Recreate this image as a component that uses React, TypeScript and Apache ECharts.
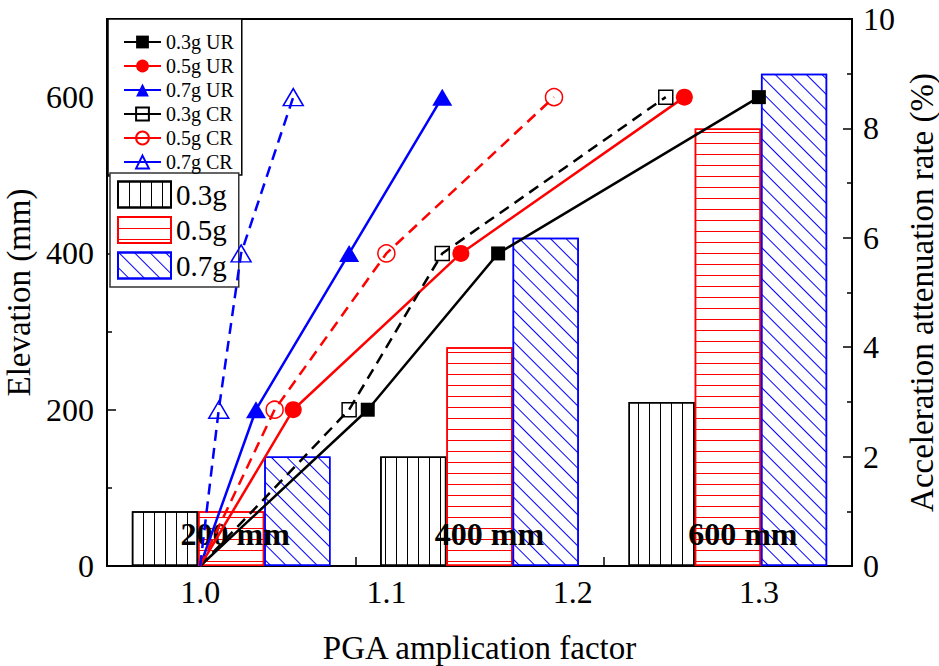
import React, { useEffect, useRef } from 'react';
import * as echarts from 'echarts';

// ---- data ----
const positions = ['200 mm', '400 mm', '600 mm'];
const barNames = ['0.3g', '0.5g', '0.7g'];
const bar03 = [1, 2, 3];
const bar05 = [1, 4, 8];
const bar07 = [2, 6, 9];

const elevation = [0, 200, 400, 600];
const ur03 = [1.0, 1.09, 1.16, 1.3];
const ur05 = [1.0, 1.05, 1.14, 1.26];
const ur07 = [1.0, 1.03, 1.08, 1.13];
const cr03 = [1.0, 1.08, 1.13, 1.25];
const cr05 = [1.0, 1.04, 1.1, 1.19];
const cr07 = [1.0, 1.01, 1.022, 1.05];

const lineNames = ['0.3g UR', '0.5g UR', '0.7g UR', '0.3g CR', '0.5g CR', '0.7g CR'];
const pgaTicks = [1.0, 1.1, 1.2, 1.3];
const elevTicks = [0, 200, 400, 600];
const rateTicks = [0, 2, 4, 6, 8, 10];

// label shifts (style) for the position annotations
const labelShift = [4, 10, 15];

const FONT = 'Liberation Serif';
const BLACK = '#000000';
const RED = '#ff0000';
const BLUE = '#0000ff';

function mkLine(name: string, xs: number[], color: string, dashed: boolean, symbol: string, size: any, filled: boolean) {
  return {
    type: 'line',
    name,
    xAxisIndex: 0,
    yAxisIndex: 0,
    z: 5,
    symbol,
    symbolSize: size,
    showSymbol: true,
    clip: false,
    data: xs.map((x, i) => (elevation[i] === 0 ? { value: [x, elevation[i]], symbol: 'none' } : { value: [x, elevation[i]] })),
    lineStyle: { color, width: 2.5, type: dashed ? [11, 7] : 'solid' },
    itemStyle: filled
      ? { color, borderColor: color, borderWidth: 0 }
      : { color: 'rgba(255,255,255,0)', borderColor: color, borderWidth: 1.5 },
    emphasis: { disabled: true },
  };
}

const barLabel = {
  show: true,
  position: 'insideBottom',
  distance: 15,
  formatter: '{b}',
  color: '#000',
  fontFamily: FONT,
  fontSize: 32,
  fontWeight: 'bold',
  lineHeight: 34,
  textBorderWidth: 0,
};

function mkBar(name: string, values: number[], color: string, decal: any, withLabel: boolean) {
  return {
    type: 'bar',
    name,
    xAxisIndex: 1,
    yAxisIndex: 1,
    z: 2,
    data: withLabel
      ? values.map((v, i) => ({ value: v, label: { ...barLabel, offset: [labelShift[i], 0] } }))
      : values,
    barGap: '0%',
    barCategoryGap: '20%',
    itemStyle: { color: '#ffffff', borderColor: color, borderWidth: 1.5, decal },
    emphasis: { disabled: true },
    label: withLabel ? barLabel : { show: false },
  };
}

const decalVertical = {
  symbol: 'rect',
  symbolSize: 1,
  symbolKeepAspect: false,
  dashArrayX: [1, 10],
  dashArrayY: [4, 0],
  color: BLACK,
};
const decalHorizontal = {
  symbol: 'rect',
  symbolSize: 1,
  symbolKeepAspect: false,
  dashArrayX: [10, 0],
  dashArrayY: [1, 10],
  color: RED,
};
const decalDiagonal = {
  symbol: 'rect',
  symbolSize: 1,
  symbolKeepAspect: false,
  dashArrayX: [1, 10],
  dashArrayY: [4, 0],
  rotation: -Math.PI / 4,
  color: BLUE,
};

const axisLineStyle = { color: BLACK, width: 2 };
const tickStyle = { color: BLACK, width: 1.5 };
const richTick = { t: { fontFamily: FONT, fontSize: 32, color: BLACK, fontWeight: 'normal' } };
const wrap = (s: string) => (s === '' ? '' : `{t|${s}}`);

const option: any = {
  animation: false,
  backgroundColor: '#ffffff',
  textStyle: { fontFamily: FONT, color: BLACK },
  grid: {
    left: 107,
    right: 87,
    top: 19,
    bottom: 100,
    containLabel: false,
    outerBoundsMode: 'none',
    show: true,
    borderColor: BLACK,
    borderWidth: 2,
    backgroundColor: 'transparent',
  },
  legend: [
    {
      data: lineNames,
      orient: 'vertical',
      left: 108,
      top: 19,
      padding: [13, 8, 3, 15],
      itemWidth: 37,
      itemHeight: 16,
      itemGap: 4,
      borderColor: BLACK,
      borderWidth: 1.5,
      backgroundColor: '#ffffff',
      selectedMode: false,
      textStyle: { fontFamily: FONT, fontSize: 20, color: BLACK },
      lineStyle: { type: 'solid', width: 2 },
    },
    {
      data: barNames,
      orient: 'vertical',
      left: 110,
      top: 173,
      padding: [7, 12, 7, 7],
      itemWidth: 53,
      itemHeight: 26,
      itemGap: 6.5,
      icon: 'rect',
      borderColor: '#333333',
      borderWidth: 1.5,
      backgroundColor: '#ffffff',
      selectedMode: false,
      textStyle: { fontFamily: FONT, fontSize: 29, color: BLACK },
    },
  ],
  xAxis: [
    {
      type: 'value',
      min: 0.95,
      max: 1.35,
      splitNumber: 4,
      position: 'bottom',
      name: 'PGA amplication factor',
      nameLocation: 'middle',
      nameGap: 65,
      nameTextStyle: { fontFamily: FONT, fontSize: 33, color: BLACK },
      axisLine: { show: true, onZero: false, lineStyle: axisLineStyle },
      axisTick: { show: true, inside: true, length: 9, lineStyle: tickStyle },
      axisLabel: {
        fontFamily: FONT,
        fontSize: 32,
        color: BLACK,
        margin: 10,
        showMinLabel: false,
        showMaxLabel: false,
        rich: richTick,
        formatter: (v: number) => wrap(pgaTicks.some((t) => Math.abs(t - v) < 1e-6) ? v.toFixed(1) : ''),
      },
      splitLine: { show: false },
    },
    {
      type: 'category',
      data: positions,
      position: 'bottom',
      show: false,
    },
    {
      type: 'value',
      min: 0.5,
      max: 3.5,
      interval: 0.5,
      position: 'bottom',
      axisLine: { show: false, onZero: false },
      axisLabel: { show: false },
      axisTick: { show: true, inside: true, length: 9, lineStyle: tickStyle },
      minorTick: { show: true, splitNumber: 2, length: 4, lineStyle: tickStyle },
      splitLine: { show: false },
    },
  ],
  yAxis: [
    {
      type: 'value',
      min: 0,
      max: 700,
      interval: 200,
      position: 'left',
      name: 'Elevation (mm)',
      nameLocation: 'middle',
      nameGap: 68,
      nameTextStyle: { fontFamily: FONT, fontSize: 33, lineHeight: 33, color: BLACK },
      axisLine: { show: true, onZero: false, lineStyle: axisLineStyle },
      axisTick: { show: true, inside: true, length: 9, lineStyle: tickStyle },
      minorTick: { show: true, splitNumber: 2, length: 5, lineStyle: tickStyle },
      axisLabel: {
        fontFamily: FONT,
        fontSize: 32,
        color: BLACK,
        margin: 13,
        rich: richTick,
        formatter: (v: number) => wrap(elevTicks.includes(v) ? String(v) : ''),
      },
      splitLine: { show: false },
    },
    {
      type: 'value',
      min: 0,
      max: 10,
      interval: 2,
      position: 'right',
      name: 'Acceleration attenuation rate (%)',
      nameLocation: 'middle',
      nameGap: 52,
      nameTextStyle: { fontFamily: FONT, fontSize: 33, lineHeight: 33, color: BLACK },
      axisLine: { show: true, onZero: false, lineStyle: axisLineStyle },
      axisTick: { show: true, inside: true, length: 9, lineStyle: tickStyle },
      minorTick: { show: true, splitNumber: 2, length: 5, lineStyle: tickStyle },
      axisLabel: {
        fontFamily: FONT,
        fontSize: 32,
        color: BLACK,
        margin: 11,
        rich: richTick,
        formatter: (v: number) => wrap(rateTicks.includes(v) ? String(v) : ''),
      },
      splitLine: { show: false },
    },
  ],
  series: [
    mkBar(barNames[0], bar03, BLACK, decalVertical, false),
    mkBar(barNames[1], bar05, RED, decalHorizontal, true),
    mkBar(barNames[2], bar07, BLUE, decalDiagonal, false),
    mkLine(lineNames[0], ur03, BLACK, false, 'rect', 14, true),
    mkLine(lineNames[1], ur05, RED, false, 'circle', 17, true),
    mkLine(lineNames[2], ur07, BLUE, false, 'triangle', [20, 17], true),
    mkLine(lineNames[3], cr03, BLACK, true, 'rect', 14, false),
    mkLine(lineNames[4], cr05, RED, true, 'circle', 17, false),
    mkLine(lineNames[5], cr07, BLUE, true, 'triangle', [20, 17], false),
  ],
};

export default function App() {
  const ref = useRef<HTMLDivElement>(null);
  useEffect(() => {
    if (!ref.current) return;
    const chart = echarts.init(ref.current, null, { renderer: 'svg' });
    chart.setOption(option);
    return () => chart.dispose();
  }, []);
  return <div ref={ref} style={{ position: 'absolute', left: 0, top: 0, width: 939, height: 666 }} />;
}
